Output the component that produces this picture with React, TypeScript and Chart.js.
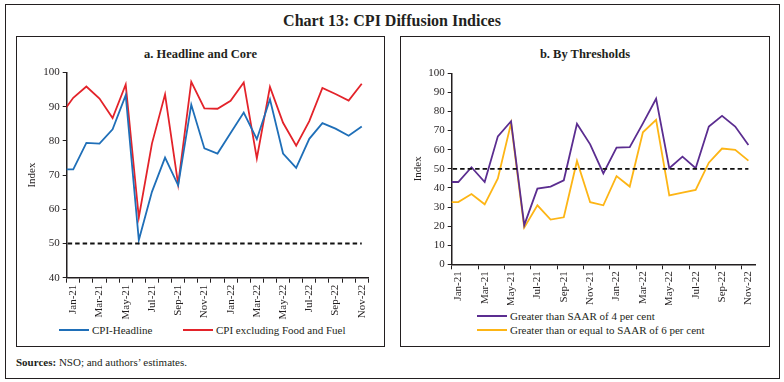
import React, { useEffect, useRef } from 'react';
import { Chart, registerables } from 'chart.js';
Chart.register(...registerables);

// Categories (Dec-20 sits just left of the visible axis; the axis starts at Jan-21)
const months = [
  'Dec-20', 'Jan-21', 'Feb-21', 'Mar-21', 'Apr-21', 'May-21', 'Jun-21', 'Jul-21', 'Aug-21',
  'Sep-21', 'Oct-21', 'Nov-21', 'Dec-21', 'Jan-22', 'Feb-22', 'Mar-22', 'Apr-22', 'May-22',
  'Jun-22', 'Jul-22', 'Aug-22', 'Sep-22', 'Oct-22', 'Nov-22',
];

const cpiHeadline = [
  71.7, 71.7, 79.4, 79.2, 83.4, 93.4, 51.0, 65.1, 75.1, 67.0, 90.6, 77.8, 76.3,
  82.3, 88.3, 80.5, 92.2, 76.3, 72.1, 80.6, 85.2, 83.6, 81.5, 84.2,
];
const cpiCore = [
  87.4, 92.6, 95.9, 92.4, 86.7, 96.5, 57.6, 79.2, 93.6, 67.3, 97.3, 89.5, 89.4,
  91.7, 97.1, 74.9, 95.8, 85.3, 78.6, 85.8, 95.5, 93.7, 91.8, 96.7,
];
const saar4 = [
  43.1, 43.1, 50.8, 43.1, 67.0, 74.9, 20.5, 39.6, 40.7, 44.0, 73.6, 62.8, 47.6,
  61.1, 61.3, 73.8, 86.7, 50.3, 56.4, 50.3, 72.1, 77.7, 72.1, 62.5,
];
const saar6 = [
  32.6, 32.6, 36.8, 31.4, 45.0, 73.8, 19.2, 30.9, 23.4, 24.6, 54.1, 32.5, 30.9,
  46.2, 40.7, 69.1, 75.6, 36.1, 37.5, 38.9, 53.2, 60.6, 59.9, 54.3,
];
const threshold = [
  50, 50, 50, 50, 50, 50, 50, 50, 50, 50, 50, 50,
  50, 50, 50, 50, 50, 50, 50, 50, 50, 50, 50, 50,
];

const FONT = "'Liberation Serif', 'Times New Roman', serif";
const INK = '#231f20';
const BLUE = '#1f6fb8';
const RED = '#e3232a';
const PURPLE = '#5b2d90';
const YELLOW = '#fdb515';

type PanelProps = {
  datasets: { label: string; data: number[]; color: string; dash?: number[]; width?: number }[];
  yMin: number;
  yMax: number;
  w: number;
  h: number;
  padTop: number;
  padRight: number;
  yWidth: number;
  xHeight: number;
  titlePad: number;
  allTicks: boolean;
};

function Panel(p: PanelProps) {
  const ref = useRef<HTMLCanvasElement>(null);
  useEffect(() => {
    if (!ref.current) return;
    const chart = new Chart(ref.current, {
      type: 'line',
      data: {
        labels: months,
        datasets: p.datasets.map((d) => ({
          label: d.label,
          data: d.data,
          borderColor: d.color,
          backgroundColor: d.color,
          borderWidth: d.width ?? 1.8,
          borderDash: d.dash,
          pointRadius: 0,
          tension: 0,
          fill: false,
        })),
      },
      options: {
        responsive: false,
        animation: false,
        devicePixelRatio: 1,
        layout: { padding: { top: p.padTop, right: p.padRight, left: 0, bottom: 0 } },
        plugins: { legend: { display: false }, tooltip: { enabled: false }, title: { display: false } },
        scales: {
          x: {
            type: 'category',
            min: 'Jan-21',
            max: 'Nov-22',
            offset: true,
            afterFit: (s: any) => { s.height = p.xHeight; },
            border: { display: true, color: INK, width: 1.5 },
            grid: {
              display: true,
              offset: true,
              drawOnChartArea: false,
              drawTicks: true,
              tickLength: 5,
              lineWidth: 1,
              color: INK,
              tickColor: (ctx: any) =>
                p.allTicks || (typeof ctx.index === 'number' && ctx.index % 2 === 0) ? INK : 'rgba(0,0,0,0)',
            },
            ticks: {
              autoSkip: false,
              minRotation: 90,
              maxRotation: 90,
              padding: 2,
              color: INK,
              font: { family: FONT, size: 11 },
              callback: function (this: any, value: any, index: number) {
                return index % 2 === 0 ? this.getLabelForValue(value) : '';
              },
            },
          },
          y: {
            min: p.yMin,
            max: p.yMax,
            afterFit: (s: any) => { s.width = p.yWidth; },
            border: { display: true, color: INK, width: 1.5 },
            grid: {
              display: true,
              drawOnChartArea: false,
              drawTicks: true,
              tickLength: 4,
              color: INK,
            },
            ticks: {
              stepSize: 10,
              padding: 3,
              color: INK,
              font: { family: FONT, size: 11 },
            },
            title: {
              display: true,
              text: 'Index',
              color: INK,
              padding: { top: p.titlePad, bottom: 0 },
              font: { family: FONT, size: 11 },
            },
          },
        },
      },
    } as any);
    return () => chart.destroy();
  }, []);
  return <canvas ref={ref} width={p.w} height={p.h} style={{ display: 'block', width: p.w, height: p.h }} />;
}

function LegendLine({ color, text, left, top }: { color: string; text: string; left: number; top: number }) {
  return (
    <div style={{ position: 'absolute', left, top, display: 'flex', alignItems: 'center', height: 14, whiteSpace: 'nowrap' }}>
      <span style={{ display: 'inline-block', width: 30, height: 2.5, background: color, marginRight: 3 }} />
      <span style={{ fontSize: 11, color: INK }}>{text}</span>
    </div>
  );
}

export default function App() {
  const box: React.CSSProperties = { position: 'absolute', border: `1.5px solid ${INK}`, boxSizing: 'border-box' };
  const panelTitle: React.CSSProperties = {
    position: 'absolute', width: '100%', textAlign: 'center', fontWeight: 'bold', fontSize: 12.5, color: INK, top: 10, left: 0,
  };
  return (
    <div style={{ position: 'absolute', left: 0, top: 0, width: 784, height: 382, background: '#fff', fontFamily: FONT }}>
      <div style={{ ...box, left: 5, top: 4, width: 775, height: 375 }} />
      <div style={{ position: 'absolute', left: 0, top: 12, width: 784, textAlign: 'center', fontSize: 16, fontWeight: 'bold', color: INK }}>
        Chart 13: CPI Diffusion Indices
      </div>

      {/* Panel a */}
      <div style={{ ...box, left: 16, top: 36, width: 369, height: 311 }}>
        <div style={panelTitle}>a. Headline and Core</div>
      </div>
      <div style={{ position: 'absolute', left: 16, top: 60 }}>
        <Panel
          datasets={[
            { label: 'Threshold', data: threshold, color: '#111', dash: [4.5, 3], width: 1.8 },
            { label: 'CPI-Headline', data: cpiHeadline, color: BLUE },
            { label: 'CPI excluding Food and Fuel', data: cpiCore, color: RED },
          ]}
          yMin={40}
          yMax={100}
          w={368}
          h={260}
          padTop={12.5}
          padRight={15.7}
          yWidth={50.7}
          xHeight={42.3}
          titlePad={10}
          allTicks={true}
        />
      </div>
      <LegendLine color={BLUE} text="CPI-Headline" left={59} top={323} />
      <LegendLine color={RED} text="CPI excluding Food and Fuel" left={183} top={323} />

      {/* Panel b */}
      <div style={{ ...box, left: 400, top: 36, width: 370, height: 311 }}>
        <div style={panelTitle}>b. By Thresholds</div>
      </div>
      <div style={{ position: 'absolute', left: 400, top: 60 }}>
        <Panel
          datasets={[
            { label: 'Threshold', data: threshold, color: '#111', dash: [4.5, 3], width: 1.8 },
            { label: 'Greater than SAAR of 4 per cent', data: saar4, color: PURPLE },
            { label: 'Greater than or equal to SAAR of 6 per cent', data: saar6, color: YELLOW },
          ]}
          yMin={0}
          yMax={100}
          w={369}
          h={245}
          padTop={13.3}
          padRight={14}
          yWidth={51.7}
          xHeight={40.7}
          titlePad={11.7}
          allTicks={false}
        />
      </div>
      <LegendLine color={PURPLE} text="Greater than SAAR of 4 per cent" left={477} top={309} />
      <LegendLine color={YELLOW} text="Greater than or equal to SAAR of 6 per cent" left={477} top={323} />

      <div style={{ position: 'absolute', left: 16, top: 356, fontSize: 11, color: INK, whiteSpace: 'nowrap' }}>
        <b>Sources:</b> NSO; and authors’ estimates.
      </div>
    </div>
  );
}
